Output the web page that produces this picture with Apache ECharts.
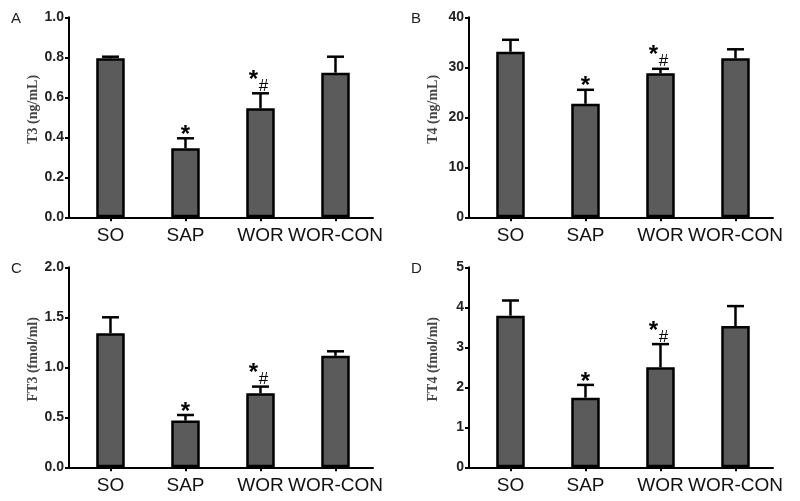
<!DOCTYPE html>
<html>
<head>
<meta charset="utf-8">
<script src="https://cdn.jsdelivr.net/npm/echarts@6/dist/echarts.min.js"></script>
<style>html,body{margin:0;padding:0;background:#fff}#c{width:800px;height:501px}</style>
</head>
<body>
<div id="c"></div>
<script>
const categories = ['SO', 'SAP', 'WOR', 'WOR-CON'];
const t3Mean = [0.795, 0.345, 0.545, 0.723];
const t3Sd = [0.008, 0.05, 0.075, 0.08];
const t4Mean = [33.1, 22.7, 28.8, 31.8];
const t4Sd = [2.4, 2.8, 0.9, 1.8];
const ft3Mean = [1.34, 0.467, 0.74, 1.115];
const ft3Sd = [0.16, 0.056, 0.067, 0.045];
const ft4Mean = [3.79, 1.74, 2.5, 3.53];
const ft4Sd = [0.38, 0.32, 0.58, 0.5];
const marks = ['', '*', '*#', ''];
const panelLetters = ['A', 'B', 'C', 'D'];
const yNames = ['T3 (ng/mL)', 'T4 (ng/mL)', 'FT3 (fmol/ml)', 'FT4 (fmol/ml)'];
const yMax = [1.0, 40, 2.0, 5];
const yStep = [0.2, 10, 0.5, 1];
const yDecimals = [1, 0, 1, 0];

const panels = [
  {mean: t3Mean, sd: t3Sd},
  {mean: t4Mean, sd: t4Sd},
  {mean: ft3Mean, sd: ft3Sd},
  {mean: ft4Mean, sd: ft4Sd}
];

const chart = echarts.init(document.getElementById('c'), null, {renderer: 'canvas'});

const grids = [], xAxes = [], yAxes = [], series = [], titles = [], graphics = [];
const pos = [[69, 17.3], [469, 17.3], [69, 267.3], [469, 267.3]];

panels.forEach((p, i) => {
  const [gl, gt] = pos[i];
  grids.push({left: gl, top: gt, width: 304, height: 200, containLabel: false});
  xAxes.push({
    type: 'value', gridIndex: i, min: -0.553, max: 3.5,
    splitLine: {show: false},
    axisLine: {show: true, onZero: false, lineStyle: {color: '#000', width: 2}},
    axisTick: {show: true, customValues: [0, 1, 2, 3], length: 4, lineStyle: {color: '#000', width: 2}},
    axisLabel: {
      customValues: [0, 1, 2, 3], margin: 9,
      formatter: v => categories[Math.round(v)] || '',
      fontFamily: 'Liberation Sans', fontSize: 19, color: '#111'
    }
  });
  yAxes.push({
    type: 'value', gridIndex: i, min: 0, max: yMax[i], interval: yStep[i],
    splitLine: {show: false},
    axisLine: {show: true, onZero: false, lineStyle: {color: '#000', width: 2}},
    axisTick: {show: true, length: 4, lineStyle: {color: '#000', width: 2}},
    axisLabel: {
      margin: 5, fontFamily: 'Liberation Sans', fontWeight: 'bold', fontSize: 14, color: '#222',
      formatter: v => v.toFixed(yDecimals[i])
    }
  });
  graphics.push({
    type: 'text', x: gl - 36, y: gt + 100 - 8, rotation: Math.PI / 2, silent: true,
    style: {text: yNames[i], align: 'center', verticalAlign: 'middle',
      font: 'bold 14px "Liberation Serif"', fill: '#444'}
  });
  series.push({
    type: 'bar', xAxisIndex: i, yAxisIndex: i, barWidth: 28.5,
    data: p.mean.map((m, k) => [k, m]),
    itemStyle: {color: '#5b5b5b', borderColor: '#000', borderWidth: 2.5},
    silent: true, animation: false
  });
  series.push({
    type: 'custom', xAxisIndex: i, yAxisIndex: i, z: 5, animation: false, silent: true,
    data: p.mean.map((m, k) => [k, m, m + p.sd[k], k]),
    renderItem: (params, api) => {
      const x = api.value(0), m = api.value(1), hi = api.value(2), k = api.value(3);
      const b = api.coord([x, m]);
      const t = api.coord([x, hi]);
      const children = [
        {type: 'line', shape: {x1: b[0], y1: b[1], x2: t[0], y2: t[1]}, style: {stroke: '#000', lineWidth: 2.5}},
        {type: 'line', shape: {x1: t[0] - 8.5, y1: t[1], x2: t[0] + 8.5, y2: t[1]}, style: {stroke: '#000', lineWidth: 2.5}}
      ];
      const mk = marks[k];
      if (mk === '*') {
        children.push({type: 'text', style: {text: '*', x: t[0], y: t[1] + 9, align: 'center', verticalAlign: 'bottom', font: 'bold 24px "Liberation Sans"', fill: '#000'}});
      } else if (mk === '*#') {
        children.push({type: 'text', style: {text: '*', x: t[0] - 7, y: t[1] - 1, align: 'center', verticalAlign: 'bottom', font: 'bold 24px "Liberation Sans"', fill: '#000'}});
        children.push({type: 'text', style: {text: '#', x: t[0] + 3, y: t[1] + 1.5, align: 'center', verticalAlign: 'bottom', font: '17px "Liberation Sans"', fill: '#000'}});
      }
      return {type: 'group', children};
    }
  });
  titles.push({
    text: panelLetters[i], left: pos[i][0] - 58, top: pos[i][1] - 6, padding: 0,
    textStyle: {fontFamily: 'Liberation Sans', fontWeight: 'normal', fontSize: 15, color: '#222'}
  });
});

chart.setOption({
  animation: false,
  title: titles,
  grid: grids,
  xAxis: xAxes,
  yAxis: yAxes,
  graphic: graphics,
  series: series
});
</script>
</body>
</html>
